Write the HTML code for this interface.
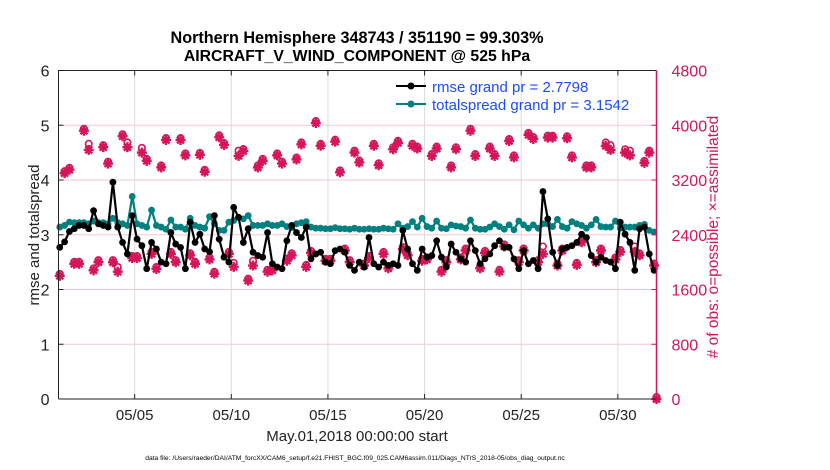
<!DOCTYPE html>
<html><head><meta charset="utf-8"><style>
body{margin:0;background:#fff;}
svg{display:block;font-family:"Liberation Sans",Arial,sans-serif;}
</style></head><body>
<svg id="chart" width="830" height="470" viewBox="0 0 830 470">
<g id="grid"></g>
<g id="series"></g>
<g id="axes"></g>
<text x="357" y="43" text-anchor="middle" font-size="16.2" font-weight="bold" fill="#000">Northern Hemisphere 348743 / 351190 = 99.303%</text>
<text x="357" y="61" text-anchor="middle" font-size="15.8" font-weight="bold" fill="#000">AIRCRAFT_V_WIND_COMPONENT @ 525 hPa</text>
<text transform="translate(39,235) rotate(-90)" text-anchor="middle" font-size="15" fill="#222">rmse and totalspread</text>
<text transform="translate(718,237) rotate(-90)" text-anchor="middle" font-size="15.5" fill="#d6145a"># of obs: o=possible; ×=assimilated</text>
<text x="357" y="441" text-anchor="middle" font-size="15" fill="#222">May.01,2018 00:00:00 start</text>
<text x="355" y="460" text-anchor="middle" font-size="6.7" fill="#000">data file: /Users/raeder/DAI/ATM_forcXX/CAM6_setup/f.e21.FHIST_BGC.f09_025.CAM6assim.011/Diags_NTrS_2018-05/obs_diag_output.nc</text>
<g>
  <line x1="396" y1="86" x2="426" y2="86" stroke="#000" stroke-width="2"/>
  <circle cx="411" cy="86" r="3.5" fill="#000"/>
  <text x="432" y="92" font-size="15" fill="#1a4dff">rmse grand pr = 2.7798</text>
  <line x1="396" y1="104" x2="426" y2="104" stroke="#008080" stroke-width="2"/>
  <circle cx="411" cy="104" r="3.5" fill="#008080"/>
  <text x="432" y="110" font-size="15" fill="#1a4dff">totalspread grand pr = 3.1542</text>
</g>
</svg>
<script>
const rmse=[2.77,2.87,3.06,3.11,3.17,3.17,3.11,3.44,3.20,3.17,3.14,3.96,3.14,2.86,2.65,3.35,2.92,2.80,2.38,2.86,2.74,2.50,2.47,3.04,2.83,2.77,2.38,3.23,2.86,3.01,2.74,2.69,3.35,2.92,2.59,2.50,3.50,3.32,2.86,3.11,2.68,2.62,2.59,3.04,2.47,2.41,2.38,2.89,3.17,3.04,2.95,3.14,2.56,2.65,2.68,2.50,2.47,2.71,2.74,2.68,2.44,2.35,2.50,2.41,2.95,2.47,2.41,2.50,2.44,2.47,2.44,3.08,2.74,2.47,2.35,2.74,2.59,2.62,2.89,2.59,2.41,2.83,2.68,2.56,2.50,2.89,2.71,2.47,2.56,2.65,2.80,2.89,2.77,2.77,2.56,2.38,2.71,2.47,2.53,2.38,3.79,3.29,2.68,2.44,2.74,2.77,2.80,2.86,3.01,2.95,2.62,2.50,2.59,2.53,2.50,2.38,3.23,3.01,2.86,2.35,3.11,3.14,2.65,2.35];
const spread=[3.14,3.17,3.23,3.22,3.22,3.22,3.20,3.25,3.22,3.22,3.20,3.30,3.22,3.20,3.17,3.70,3.20,3.17,3.14,3.45,3.17,3.14,3.10,3.27,3.14,3.14,3.10,3.30,3.17,3.14,3.12,3.33,3.20,3.08,3.08,3.23,3.26,3.32,3.29,3.35,3.17,3.17,3.17,3.20,3.17,3.17,3.20,3.15,3.13,3.20,3.22,3.24,3.14,3.12,3.12,3.11,3.11,3.13,3.11,3.11,3.10,3.12,3.10,3.10,3.11,3.10,3.10,3.12,3.11,3.10,3.20,3.12,3.15,3.24,3.14,3.30,3.15,3.12,3.25,3.12,3.11,3.18,3.16,3.15,3.12,3.27,3.12,3.10,3.10,3.14,3.20,3.15,3.10,3.18,3.09,3.25,3.18,3.12,3.18,3.12,3.20,3.20,3.15,3.28,3.15,3.12,3.24,3.20,3.17,3.12,3.18,3.28,3.15,3.14,3.14,3.25,3.12,3.14,3.14,3.14,3.17,3.19,3.08,3.05];
const obsAssim=[1800,3300,3350,1976,1976,3920,3640,1880,2000,3680,3440,2000,1860,3840,3680,2060,2060,3600,3480,2120,1900,3384,3784,2120,2000,3784,3560,2100,1976,3568,3320,2040,1830,3824,3712,2120,1930,3552,3624,1730,1950,3384,3480,1860,1880,3560,3440,2020,2100,3500,3720,1930,2135,4032,3700,2020,2020,3760,3312,2170,2000,3600,3456,1950,2060,3700,3416,2120,1910,3650,3744,2190,2100,3700,3660,2020,2040,3550,3660,1860,2000,3384,3650,2040,2170,3920,3550,1910,2135,3660,3550,1860,2230,3770,3530,2000,2170,3860,3800,2000,2120,3820,3820,1950,2170,3810,3530,1960,2290,3384,3384,2000,2170,3700,3640,2040,2150,3600,3560,2150,2100,3450,3600,1950,0];
const obsPoss=[1800,3300,3350,1976,1976,3920,3700,1880,2000,3680,3440,2000,1900,3840,3720,2060,2060,3640,3480,2120,1900,3384,3784,2120,2000,3784,3560,2100,1976,3568,3320,2040,1830,3824,3712,2120,1960,3600,3624,1730,1990,3384,3480,1860,1880,3560,3440,2020,2100,3500,3720,1930,2135,4032,3700,2020,2020,3760,3312,2170,2000,3600,3456,1950,2060,3700,3416,2120,1910,3650,3744,2190,2100,3700,3660,2020,2040,3550,3660,1860,2000,3384,3650,2040,2170,3920,3550,1910,2135,3660,3550,1860,2230,3770,3530,2000,2170,3860,3800,2000,2200,3820,3820,1950,2170,3810,3530,1960,2290,3384,3384,2000,2170,3720,3680,2040,2150,3620,3600,2200,2100,3450,3600,1950,0];
const xTickDays=[5,10,15,20,25,30];
const xTickLabels=["05/05","05/10","05/15","05/20","05/25","05/30"];
const yTicks=[0,1,2,3,4,5,6];
const yRightTicks=[0,800,1600,2400,3200,4000,4800];

const NS="http://www.w3.org/2000/svg";
const L=58.5,R=656.5,T=70.5,B=399,T0=1.06,T1=32;
function x(t){return L+(t-T0)/(T1-T0)*(R-L);}
function y(v){return B-v/6*(B-T);}
function yR(c){return B-c/4800*(B-T);}
function tAt(i){return i<124?1.125+0.25*i:32;}
function mk(tag,attrs,parent){const e=document.createElementNS(NS,tag);for(const k in attrs)e.setAttribute(k,attrs[k]);parent.appendChild(e);return e;}
const grid=document.getElementById('grid'),ser=document.getElementById('series'),ax=document.getElementById('axes');
const crim="#d6145a";
xTickDays.forEach((d,i)=>{
  const g=mk('line',{x1:x(d),x2:x(d),y1:T,y2:B,stroke:'#dcdcdc','stroke-width':1},grid);
  
  
  const tb=mk('line',{x1:x(d),x2:x(d),y1:B,y2:B-5,stroke:'#222'},ax);
  
  
  mk('line',{x1:x(d),x2:x(d),y1:T,y2:T+5,stroke:'#222'},ax);
  const t=mk('text',{x:x(d),y:B+21,'text-anchor':'middle','font-size':15,fill:'#222'},ax);
  t.textContent=xTickLabels[i];
  
  
});
yTicks.forEach(v=>{
  if(v>0&&v<6){const g=mk('line',{x1:L,x2:R,y1:y(v),y2:y(v),stroke:'#f3c6d6','stroke-width':1},grid);
  
  }
  mk('line',{x1:L,x2:L+5,y1:y(v),y2:y(v),stroke:'#222'},ax);
  const t=mk('text',{x:L-9,y:y(v)+6,'text-anchor':'end','font-size':16,fill:'#222'},ax);
  t.textContent=v;
  
  
});
yRightTicks.forEach(c=>{
  mk('line',{x1:R-5,x2:R,y1:yR(c),y2:yR(c),stroke:crim},ax);
  const t=mk('text',{x:R+15,y:yR(c)+6,'font-size':16,fill:crim},ax);
  t.textContent=c;
  
  
});
mk('path',{d:`M${L},${B}V${T}H${R}`,fill:'none',stroke:'#222','stroke-width':1},ax);
mk('line',{x1:L,x2:R,y1:B,y2:B,stroke:'#222','stroke-width':1},ax);
mk('line',{x1:R,x2:R,y1:T,y2:B,stroke:crim,'stroke-width':1.5},ax);
obsAssim.forEach((c,i)=>{
  const cx=x(tAt(i)),cy=yR(c);
  const g=mk('path',{d:`M${cx-5},${cy}H${cx+5}M${cx},${cy-5}V${cy+5}M${cx-3.5},${cy-3.5}L${cx+3.5},${cy+3.5}M${cx-3.5},${cy+3.5}L${cx+3.5},${cy-3.5}`,stroke:crim,'stroke-width':2.4,fill:'none'},ser);
  
  
});
obsPoss.forEach((c,i)=>{
  const g=mk('circle',{cx:x(tAt(i)),cy:yR(c)-2,r:3.2,fill:'none',stroke:crim,'stroke-width':1.6},ser);
  
  
});
function line(arr,col,name){
  const p=mk('polyline',{points:arr.map((v,i)=>x(tAt(i))+','+y(v)).join(' '),fill:'none',stroke:col,'stroke-width':2.2},ser);
  
  
  arr.forEach((v,i)=>{
    const c=mk('circle',{cx:x(tAt(i)),cy:y(v),r:3.4,fill:col},ser);
    
    
  });
}
line(spread,'#008080','totalspread');
line(rmse,'#000','rmse');
</script>
</body></html>
